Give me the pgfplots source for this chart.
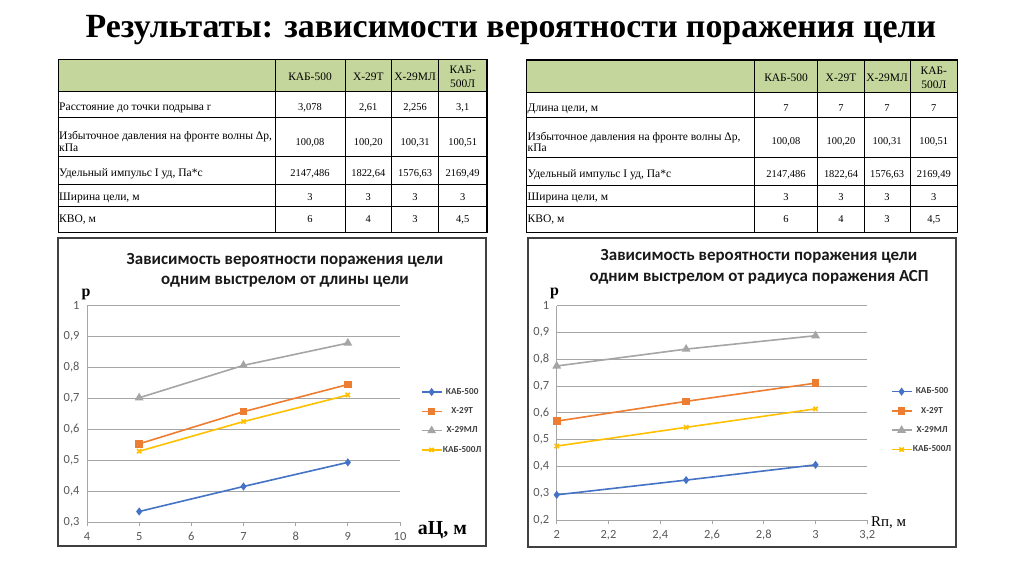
\documentclass[border=0pt]{standalone}
\usepackage{fontspec}
\setmainfont{Liberation Serif}
\newfontfamily\calfont{Carlito}
\usepackage{pgfplots}
\pgfplotsset{compat=1.18}

\definecolor{cblue}{HTML}{4472C4}
\definecolor{corange}{HTML}{ED7D31}
\definecolor{cgray}{HTML}{A5A5A5}
\definecolor{cyellow}{HTML}{FFC000}
\definecolor{hdr}{RGB}{196,214,155}
\definecolor{framec}{HTML}{404040}
\definecolor{tickc}{HTML}{595959}
\definecolor{gridc}{HTML}{A6A6A6}
\definecolor{legc}{HTML}{404040}

% table cells
\tikzset{cell/.style={anchor=base, inner sep=0pt, font=\fontsize{10.5}{12}\selectfont},
  hcell/.style={cell, font=\fontsize{11.5}{13}\selectfont}}
\newcommand\vals[5]{%
  \node[cell] at (\cA,#1) {#2};
  \node[cell] at (\cB,#1) {#3};
  \node[cell] at (\cC,#1) {#4};
  \node[cell] at (\cD,#1) {#5};}
\newcommand\lab[2]{\node[cell, anchor=base west, font=\fontsize{11.6}{13}\selectfont] at (\cL,#1) {#2};}

\pgfplotsset{
  slide chart/.style={
    scale only axis, clip=false,
    axis lines=left, axis line style={-, draw=gridc, line width=0.8bp},
    ymajorgrids, grid style={gridc, line width=0.8bp},
    tick align=outside, major tick length=4bp,
    ytick style={draw=none}, xtick style={draw=gridc, line width=0.8bp},
    ticklabel style={font=\calfont\fontsize{12.5}{14}\selectfont, text=tickc},
    xticklabel style={yshift=-3bp, text height=8bp, text depth=2bp},
    /pgf/number format/use comma,
    /pgf/number format/fixed,
    /pgf/number format/precision=1,
    /pgf/number format/assume math mode=true,
    legend cell align=center,
    legend style={anchor=west, draw=none, fill=none, inner sep=0pt,
      row sep=11.8bp, text=legc,
      font=\calfont\bfseries\fontsize{9.2}{10}\selectfont,
      nodes={inner sep=0pt, text height=6bp, text depth=1.5bp},
      /tikz/every odd column/.append style={column sep=0.5bp}},
    legend image code/.code={%
      \draw[mark repeat=2, mark phase=2, ##1] plot coordinates {(0bp,0bp) (10bp,0bp) (20bp,0bp)};},
  },
  s1/.style={cblue, line width=1.6bp, mark=diamond*, mark size=2.8bp, mark options={solid, fill=cblue}},
  s2/.style={corange, line width=1.6bp, mark=square*, mark size=3bp, mark options={solid, fill=corange}},
  s3/.style={cgray, line width=1.6bp, mark=triangle*, mark size=3.5bp, mark options={solid, fill=cgray}},
  s4/.style={cyellow, line width=1.6bp, mark=x, mark size=3bp, mark options={solid}},
}

\begin{document}
\begin{tikzpicture}
\begin{scope}[x=1bp, y=-1bp]
\path[use as bounding box, fill=white] (0,0) rectangle (1024,574);

\node[anchor=base, font=\bfseries\fontsize{34}{38}\selectfont] at (511,37.5)
  {Результаты: зависимости вероятности поражения цели};

% ---- table 1
\fill[hdr] (58.3,59.5) rectangle (487,91.7);
\foreach \x in {275,345,391.7,438.5} \draw[line width=0.8bp] (\x,59.5) -- (\x,232.5);
\foreach \y in {91.7,117.7,156.7,184.3,206.7} \draw[line width=0.8bp] (58.3,\y) -- (487,\y);
\draw[line width=1.5bp] (58.3,59.5) rectangle (487,232.5);
\def\cL{59}\def\cA{310}\def\cB{368.3}\def\cC{415.1}\def\cD{462.7}
\node[hcell] at (\cA,80.2) {КАБ-500};
\node[hcell] at (\cB,80.2) {Х-29Т};
\node[hcell] at (\cC,80.2) {Х-29МЛ};
\node[hcell] at (\cD,73.5) {КАБ-};
\node[hcell] at (\cD,87.8) {500Л};
\lab{110.2}{Расстояние до точки подрыва r}
\vals{110.2}{3,078}{2,61}{2,256}{3,1}
\lab{139.5}{Избыточное давления на фронте волны Δр,}
\lab{151.2}{кПа}
\vals{145.8}{100,08}{100,20}{100,31}{100,51}
\lab{176.8}{Удельный импульс I уд, Па*с}
\vals{176.8}{2147,486}{1822,64}{1576,63}{2169,49}
\lab{200.2}{Ширина цели, м}
\vals{200.2}{3}{3}{3}{3}
\lab{222.8}{КВО, м}
\vals{222.8}{6}{4}{3}{4,5}

% ---- table 2
\fill[hdr] (526.7,60) rectangle (957.7,92.3);
\foreach \x in {754.3,817.7,864.3,910} \draw[line width=0.8bp] (\x,60) -- (\x,232.3);
\foreach \y in {92.3,117.7,157.7,185,206.7} \draw[line width=0.8bp] (526.7,\y) -- (957.7,\y);
\draw[line width=1.5bp] (526.7,60) rectangle (957.7,232.3);
\def\cL{527.5}\def\cA{786}\def\cB{841}\def\cC{887.1}\def\cD{933.8}
\node[hcell] at (\cA,81.8) {КАБ-500};
\node[hcell] at (\cB,81.8) {Х-29Т};
\node[hcell] at (\cC,81.8) {Х-29МЛ};
\node[hcell] at (\cD,74.5) {КАБ-};
\node[hcell] at (\cD,88.5) {500Л};
\lab{111.2}{Длина цели, м}
\vals{111.2}{7}{7}{7}{7}
\lab{140.2}{Избыточное давления на фронте волны Δр,}
\lab{151.2}{кПа}
\vals{144.5}{100,08}{100,20}{100,31}{100,51}
\lab{177.8}{Удельный импульс I уд, Па*с}
\vals{177.8}{2147,486}{1822,64}{1576,63}{2169,49}
\lab{200.2}{Ширина цели, м}
\vals{200.2}{3}{3}{3}{3}
\lab{222.8}{КВО, м}
\vals{222.8}{6}{4}{3}{4,5}

% ---- chart frames and texts
\draw[framec, line width=2bp] (58.3,237.7) rectangle (486,545.7);
\draw[framec, line width=2bp] (527.7,237.7) rectangle (955.7,546.7);
\tikzset{ctitle/.style={anchor=base, font=\calfont\bfseries\fontsize{17}{20}\selectfont, text=black!90}}
\node[ctitle] at (285,265) {Зависимость вероятности поражения цели};
\node[ctitle] at (285,285) {одним выстрелом от длины цели};
\node[ctitle] at (759,261) {Зависимость вероятности поражения цели};
\node[ctitle] at (759,281.7) {одним выстрелом от радиуса поражения АСП};
\node[anchor=base, font=\bfseries\fontsize{16}{18}\selectfont] at (86,297) {р};
\node[anchor=base, font=\bfseries\fontsize{16}{18}\selectfont] at (554.5,296) {р};
\node[anchor=base west, inner sep=0pt, font=\bfseries\fontsize{20}{22}\selectfont] at (417.7,534) {аЦ, м};
\node[anchor=base west, inner sep=0pt, font=\fontsize{15}{17}\selectfont] at (871,526) {Rп, м};
\end{scope}

% ---- chart 1
\begin{axis}[slide chart,
  at={(87bp,-522bp)}, anchor=south west,
  width=313bp, height=216.3bp,
  xmin=4, xmax=10, ymin=0.3, ymax=1,
  xtick={4,5,6,7,8,9,10},
  ytick={0.3,0.4,0.5,0.6,0.7,0.8,0.9,1},
  legend style={at={(1.066,0.467)}},
]
\addplot[s1] coordinates {(5,0.334) (7,0.415) (9,0.493)};
\addlegendentry{КАБ-500}
\addplot[s2] coordinates {(5,0.553) (7,0.657) (9,0.745)};
\addlegendentry{Х-29Т}
\addplot[s3] coordinates {(5,0.702) (7,0.807) (9,0.879)};
\addlegendentry{Х-29МЛ}
\addplot[s4] coordinates {(5,0.529) (7,0.625) (9,0.711)};
\addlegendentry{КАБ-500Л}
\end{axis}

% ---- chart 2
\begin{axis}[slide chart,
  at={(556.7bp,-520bp)}, anchor=south west,
  width=310.6bp, height=214.3bp,
  xmin=2, xmax=3.2, ymin=0.2, ymax=1,
  xtick={2,2.2,2.4,2.6,2.8,3,3.2},
  ytick={0.2,0.3,0.4,0.5,0.6,0.7,0.8,0.9,1},
  legend style={at={(1.075,0.464)}},
]
\addplot[s1] coordinates {(2,0.294) (2.5,0.349) (3,0.406)};
\addlegendentry{КАБ-500}
\addplot[s2] coordinates {(2,0.569) (2.5,0.643) (3,0.711)};
\addlegendentry{Х-29Т}
\addplot[s3] coordinates {(2,0.775) (2.5,0.838) (3,0.888)};
\addlegendentry{Х-29МЛ}
\addplot[s4] coordinates {(2,0.476) (2.5,0.546) (3,0.615)};
\addlegendentry{КАБ-500Л}
\end{axis}
\end{tikzpicture}
\end{document}
